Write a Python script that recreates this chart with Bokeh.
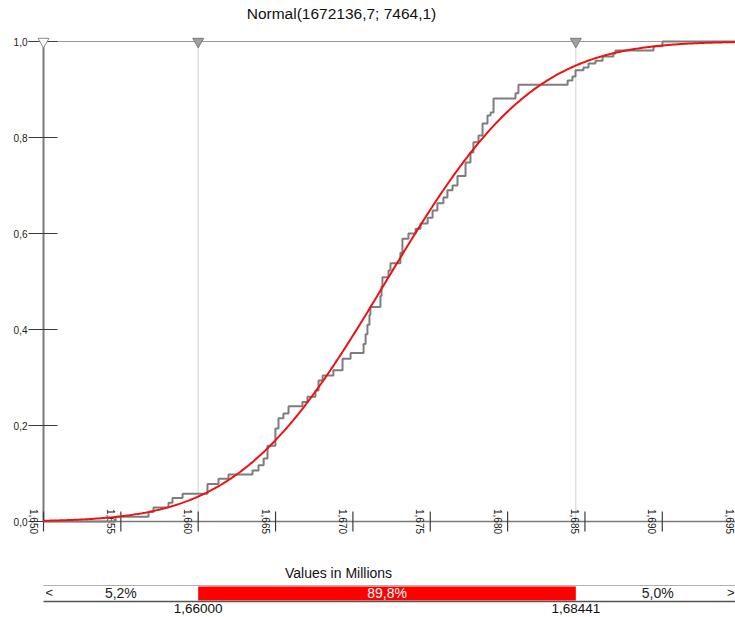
import math
import numpy as np
from bokeh.plotting import figure
from bokeh.models import Range1d
from bokeh.core.properties import value
from bokeh.embed import file_html
from bokeh.resources import INLINE

# ---------------- data ----------------
title_text = "Normal(1672136,7; 7464,1)"
fit_mean = 1.6721367      # millions
fit_sd = 0.0074641        # millions

x_ticks = [1.650, 1.655, 1.660, 1.665, 1.670, 1.675, 1.680, 1.685, 1.690, 1.695]
x_tick_labels = ["1,650", "1,655", "1,660", "1,665", "1,670", "1,675", "1,680", "1,685", "1,690", "1,695"]
y_ticks = [0.0, 0.2, 0.4, 0.6, 0.8, 1.0]
y_tick_labels = ["0,0", "0,2", "0,4", "0,6", "0,8", "1,0"]

left_cut = 1.66000
right_cut = 1.68441
left_cut_label = "1,66000"
right_cut_label = "1,68441"
band_labels = ["5,2%", "89,8%", "5,0%"]
axis_title = "Values in Millions"

# empirical cumulative distribution (value in millions, cumulative probability after step)
ecdf_x = [1.65466, 1.65679, 1.65711, 1.65808, 1.65834, 1.65899, 1.66060, 1.66131, 1.66196,
          1.66351, 1.66390, 1.66423, 1.66448, 1.66499, 1.66519, 1.66551, 1.66584, 1.66674,
          1.66706, 1.66758, 1.66778, 1.66804, 1.66874, 1.66933, 1.66985, 1.67069, 1.67082,
          1.67094, 1.67107, 1.67113, 1.67178, 1.67185, 1.67191, 1.67230, 1.67243, 1.67307,
          1.67320, 1.67359, 1.67405, 1.67437, 1.67483, 1.67515, 1.67546, 1.67585, 1.67611,
          1.67644, 1.67676, 1.67728, 1.67760, 1.67779, 1.67812, 1.67838, 1.67870, 1.67890,
          1.67909, 1.68051, 1.68070, 1.68388, 1.68419, 1.68439, 1.68490, 1.68523, 1.68568,
          1.68614, 1.68684, 1.68697, 1.68943, 1.69001]
ecdf_y = [0.010, 0.020, 0.029, 0.039, 0.049, 0.058, 0.078, 0.089, 0.098,
          0.106, 0.117, 0.131, 0.158, 0.194, 0.215, 0.225, 0.240, 0.249,
          0.260, 0.273, 0.294, 0.304, 0.315, 0.339, 0.351, 0.370, 0.390,
          0.410, 0.430, 0.447, 0.470, 0.490, 0.509, 0.523, 0.538, 0.560,
          0.589, 0.600, 0.610, 0.621, 0.633, 0.648, 0.663, 0.675, 0.690,
          0.700, 0.720, 0.748, 0.769, 0.790, 0.804, 0.829, 0.846, 0.852,
          0.881, 0.892, 0.910, 0.919, 0.927, 0.940, 0.946, 0.954, 0.960,
          0.969, 0.975, 0.981, 0.990, 1.000]

# ---------------- layout ----------------
W, H = 735, 617
PX_X = 77.35 / 0.005       # pixels per million
PX_Y = 480.0               # pixels per unit probability
AX_LEFT_PX = 43            # x=1.650 from figure left
AX_ZERO_PX = 521           # y=0 from figure top
X0 = x_ticks[0] - AX_LEFT_PX / PX_X
X1 = X0 + W / PX_X
Y1 = AX_ZERO_PX / PX_Y
Y0 = Y1 - H / PX_Y

def yrow(py):               # figure-pixel row -> data y
    return (AX_ZERO_PX - py) / PX_Y

def xcol(px):               # figure-pixel column -> data x
    return X0 + px / PX_X

FONT = value("Liberation Sans")

p = figure(width=W, height=H, x_range=Range1d(X0, X1), y_range=Range1d(Y0, Y1),
           output_backend="svg", toolbar_location=None,
           x_axis_type=None, y_axis_type=None, min_border=0,
           outline_line_color=None, background_fill_color="white",
           border_fill_color="white")

xmin = x_ticks[0]

# reference lines at cut points
p.segment(x0=[left_cut, right_cut], y0=[0, 0], x1=[left_cut, right_cut], y1=[1, 1],
          line_color="#d0d0d0", line_width=1)
# top line at 1.0
p.segment(x0=[xcol(27)], y0=[1.0], x1=[X1], y1=[1.0], line_color="#9a9a9a", line_width=1)

# axes
p.segment(x0=[xmin], y0=[0], x1=[xmin], y1=[1.0], line_color="#7a7a7a", line_width=2)
p.segment(x0=[xmin], y0=[0], x1=[X1], y1=[0], line_color="#7a7a7a", line_width=1.5)

# y ticks
p.segment(x0=[xmin - 15 / PX_X] * len(y_ticks), y0=y_ticks,
          x1=[xmin + 14 / PX_X] * len(y_ticks), y1=y_ticks,
          line_color="#3c3c3c", line_width=1.2)
p.text(x=[xmin] * len(y_ticks), y=y_ticks, text=y_tick_labels, x_offset=-16,
       text_align="right", text_baseline="middle", text_font=FONT,
       text_font_size="10px", text_color="#222222")

# x ticks
p.segment(x0=x_ticks, y0=[-10 / PX_Y] * len(x_ticks), x1=x_ticks, y1=[10 / PX_Y] * len(x_ticks),
          line_color="#3c3c3c", line_width=1.2)
p.text(x=x_ticks, y=[0.0] * len(x_ticks), text=x_tick_labels, x_offset=-10,
       angle=-math.pi / 2, text_align="center", text_baseline="middle",
       text_font=FONT, text_font_size="10px", text_color="#222222")

# empirical cdf
sx = [xmin] + ecdf_x + [X1]
sy = [0.0] + ecdf_y + [1.0]
p.step(x=sx, y=sy, mode="after", line_color="#7d7d7d", line_width=2)

# fitted normal cdf
xs = np.linspace(xmin, X1, 500)
ys = [0.5 * (1 + math.erf((v - fit_mean) / (fit_sd * math.sqrt(2)))) for v in xs]
p.line(xs, ys, line_color="#ee1111", line_width=2)

# markers at top
p.scatter(x=[xmin], y=[1.0], marker="inverted_triangle", size=11,
          fill_color="white", line_color="#8a8a8a", line_width=1)
p.scatter(x=[left_cut, right_cut], y=[1.0, 1.0], marker="inverted_triangle", size=11,
          fill_color="#a0a0a0", line_color="#7a7a7a", line_width=1)

# title
p.text(x=[xcol(341)], y=[yrow(13)], text=[title_text], text_align="center",
       text_baseline="middle", text_font=FONT, text_font_size="15.5px", text_color="#111111")

# bottom band
p.text(x=[xcol(338)], y=[yrow(572)], text=[axis_title], text_align="center",
       text_baseline="middle", text_font=FONT, text_font_size="14px", text_color="#111111")
p.quad(left=[left_cut], right=[right_cut], top=[yrow(586)], bottom=[yrow(600)],
       fill_color="#ff0000", line_color=None)
p.segment(x0=[xmin], y0=[yrow(585)], x1=[X1], y1=[yrow(585)], line_color="#b0b0b0", line_width=1)
p.segment(x0=[xmin], y0=[yrow(601)], x1=[X1], y1=[yrow(601)], line_color="#555555", line_width=1.5)

band_y = yrow(592)
p.text(x=[(xmin + left_cut) / 2, (left_cut + right_cut) / 2, (right_cut + x_ticks[-1]) / 2],
       y=[band_y] * 3, text=band_labels, text_align="center", text_baseline="middle",
       text_font=FONT, text_font_size="14px",
       text_color=["#222222", "#ffffff", "#222222"])
p.text(x=[xmin], y=[band_y], text=["<"], x_offset=2, text_align="left",
       text_baseline="middle", text_font=FONT, text_font_size="13px", text_color="#222222")
p.text(x=[X1], y=[band_y], text=[">"], x_offset=-1, text_align="right",
       text_baseline="middle", text_font=FONT, text_font_size="13px", text_color="#222222")

p.text(x=[left_cut, right_cut], y=[yrow(608)] * 2, text=[left_cut_label, right_cut_label],
       text_align="center", text_baseline="middle", text_font=FONT,
       text_font_size="13.5px", text_color="#111111")

open("out.html", "w").write(file_html(p, INLINE))
